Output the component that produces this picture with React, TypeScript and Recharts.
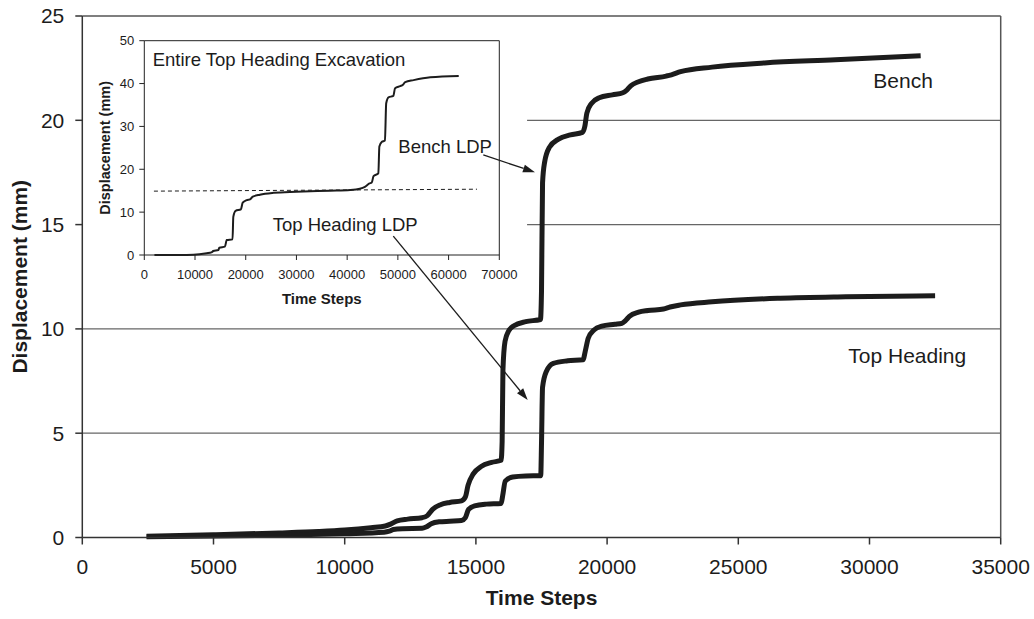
import React from "react";
import { LineChart, Line, XAxis, YAxis, ReferenceLine, ReferenceDot } from "recharts";

const FONT = '"Liberation Sans", Arial, Helvetica, sans-serif';
const INK = "#1c1c1c";

// ---- main chart: displacement vs time step ----
const MAIN_X_TICKS = [0, 5000, 10000, 15000, 20000, 25000, 30000, 35000];
const MAIN_Y_TICKS = [0, 5, 10, 15, 20, 25];

const BENCH_STEPS = [
  2450, 5000, 7500, 9000, 10000, 11000, 11550, 11750, 12000, 12400, 12950, 13150, 13350, 13650,
  14000, 14450, 14600, 14700, 14900, 15200, 15600, 15960, 16000, 16030, 16110, 16250, 16450,
  16900, 17460, 17500, 17540, 17620, 17800, 18150, 18600, 19060, 19150, 19230, 19400, 19700,
  20200, 20600, 20750, 20900, 21200, 21550, 22250, 22450, 22800, 24000, 26000, 28700, 31950,
];
const BENCH_MM = [
  0.06, 0.13, 0.22, 0.29, 0.36, 0.47, 0.55, 0.64, 0.8, 0.88, 0.95, 1.05, 1.35, 1.57,
  1.68, 1.76, 1.95, 2.5, 3.05, 3.4, 3.6, 3.7, 4.6, 8.0, 9.4, 9.9, 10.15,
  10.35, 10.45, 11.8, 17.0, 18.0, 18.7, 19.1, 19.3, 19.42, 19.7, 20.35, 20.8, 21.08,
  21.22, 21.32, 21.45, 21.65, 21.85, 21.98, 22.12, 22.18, 22.33, 22.55, 22.75, 22.9, 23.1,
];

const HEADING_STEPS = [
  2450, 5000, 7500, 10000, 11500, 11700, 11850, 12200, 12950, 13100, 13300, 13600, 14000, 14450,
  14600, 14720, 14950, 15400, 15960, 16020, 16120, 16400, 16900, 17470, 17500, 17540, 17680,
  17950, 18500, 19080, 19180, 19280, 19500, 19800, 20300, 20560, 20700, 20850, 21200, 21550,
  22150, 22400, 22800, 24000, 26600, 29100, 32500,
];
const HEADING_MM = [
  0.04, 0.07, 0.11, 0.18, 0.25, 0.3, 0.38, 0.42, 0.44, 0.5, 0.66, 0.75, 0.78, 0.81,
  0.95, 1.35, 1.52, 1.6, 1.63, 2.0, 2.7, 2.9, 2.95, 2.96, 4.5, 7.2, 7.95,
  8.35, 8.47, 8.52, 9.0, 9.55, 9.95, 10.13, 10.22, 10.27, 10.4, 10.6, 10.8, 10.88,
  10.95, 11.05, 11.15, 11.3, 11.47, 11.54, 11.59,
];

// horizontal rules; the upper two stop where the inset sits
const GRID_LEVELS = [5, 10, 15, 20];
const GRID_FROM = [0, 0, 16950, 16950];

// ---- inset: whole top heading excavation ----
const INSET_X_TICKS = [0, 10000, 20000, 30000, 40000, 50000, 60000, 70000];
const INSET_Y_TICKS = [0, 10, 20, 30, 40, 50];

const FULL_STEPS = [
  2000, 6000, 9700, 12300, 13250, 13600, 14600, 14800, 15900, 16250, 17400, 17550, 18000, 19050,
  19400, 20200, 20850, 21400, 22800, 25500, 30000, 36600, 40600, 42500, 43500, 44400, 44850,
  45200, 46150, 46350, 46850, 47450, 47700, 48150, 49100, 49450, 50450, 51000, 51450, 53100,
  56400, 62000,
];
const FULL_MM = [
  0, 0.02, 0.08, 0.4, 0.6, 0.93, 1.17, 1.7, 1.94, 3.5, 3.65, 8.9, 10.3, 10.65,
  12.2, 12.8, 13.0, 13.6, 14.07, 14.5, 14.75, 15.0, 15.16, 15.45, 15.9, 16.7, 16.9,
  18.4, 19.05, 25.3, 26.4, 26.7, 35.4, 36.8, 37.1, 38.9, 39.4, 39.7, 40.35, 40.8,
  41.45, 41.76,
];

const LDP_STEPS = [1900, 65600];
const LDP_MM = [14.9, 15.35];

const toPoints = (steps: number[], mm: number[]) => steps.map((t, i) => ({ t, d: mm[i] }));

const benchData = toPoints(BENCH_STEPS, BENCH_MM);
const headingData = toPoints(HEADING_STEPS, HEADING_MM);
const fullData = toPoints(FULL_STEPS, FULL_MM);
const ldpData = toPoints(LDP_STEPS, LDP_MM);

function arrowShape(p: any) {
  const x1 = p.x1 ?? p.points?.[0]?.x;
  const y1 = p.y1 ?? p.points?.[0]?.y;
  const x2 = p.x2 ?? p.points?.[1]?.x;
  const y2 = p.y2 ?? p.points?.[1]?.y;
  const a = Math.atan2(y2 - y1, x2 - x1);
  const len = 12;
  const half = 4;
  const bx = x2 - len * Math.cos(a);
  const by = y2 - len * Math.sin(a);
  const pts = [
    `${x2},${y2}`,
    `${bx + half * Math.sin(a)},${by - half * Math.cos(a)}`,
    `${bx - half * Math.sin(a)},${by + half * Math.cos(a)}`,
  ].join(" ");
  return (
    <g>
      <line x1={x1} y1={y1} x2={bx} y2={by} stroke={INK} strokeWidth={1.3} />
      <polygon points={pts} fill={INK} />
    </g>
  );
}

const textShape = (text: string, size: number) => (p: any) => (
  <text x={p.cx} y={p.cy} fontSize={size} fill={INK} fontFamily={FONT}>
    {text}
  </text>
);

export default function App() {
  return (
    <div
      style={{
        position: "fixed",
        left: 0,
        top: 0,
        width: 1034,
        height: 619,
        background: "#fff",
        fontFamily: FONT,
      }}
    >
      <LineChart width={1034} height={619} margin={{ top: 16, right: 33.3, bottom: 0, left: 0 }}>
        <XAxis
          type="number"
          dataKey="t"
          domain={[0, 35000]}
          ticks={MAIN_X_TICKS}
          interval={0}
          height={81.5}
          stroke="#333"
          strokeWidth={1.5}
          tickSize={7}
          tickMargin={15}
          tick={{ fontSize: 21, fill: INK, fontFamily: FONT }}
          label={(props: any) => {
            const vb = props.viewBox;
            return (
              <text
                x={vb.x + vb.width / 2}
                y={vb.y + 67.5}
                textAnchor="middle"
                fontSize={21}
                fontWeight="bold"
                fill={INK}
                fontFamily={FONT}
              >
                Time Steps
              </text>
            );
          }}
        />
        <YAxis
          type="number"
          domain={[0, 25]}
          ticks={MAIN_Y_TICKS}
          interval={0}
          width={82.3}
          stroke="#333"
          strokeWidth={1.5}
          tickSize={7}
          tickMargin={11}
          tick={{ fontSize: 21, fill: INK, fontFamily: FONT }}
          label={(props: any) => {
            const vb = props.viewBox;
            const cx = vb.x + 19;
            const cy = vb.y + vb.height / 2;
            return (
              <text
                x={cx}
                y={cy}
                transform={`rotate(-90 ${cx} ${cy})`}
                textAnchor="middle"
                dominantBaseline="central"
                fontSize={21}
                fontWeight="bold"
                fill={INK}
                fontFamily={FONT}
              >
                Displacement (mm)
              </text>
            );
          }}
        />

        {GRID_LEVELS.map((lvl, i) => (
          <ReferenceLine
            key={lvl}
            segment={[
              { x: GRID_FROM[i], y: lvl },
              { x: 35000, y: lvl },
            ]}
            stroke="#666"
            strokeWidth={1.2}
          />
        ))}
        <ReferenceLine y={25} stroke="#555" strokeWidth={1.5} />
        <ReferenceLine x={35000} stroke="#555" strokeWidth={1.5} />

        <Line
          data={benchData}
          dataKey="d"
          type="monotone"
          stroke={INK}
          strokeWidth={5}
          strokeLinejoin="round"
          dot={false}
          isAnimationActive={false}
        />
        <Line
          data={headingData}
          dataKey="d"
          type="monotone"
          stroke={INK}
          strokeWidth={5}
          strokeLinejoin="round"
          dot={false}
          isAnimationActive={false}
        />

        <ReferenceDot x={30145} y={21.56} r={1} ifOverflow="visible" shape={textShape("Bench", 21)} />
        <ReferenceDot x={29192} y={8.35} r={1} ifOverflow="visible" shape={textShape("Top Heading", 21)} />
        <ReferenceDot x={12043} y={18.45} r={1} ifOverflow="visible" shape={textShape("Bench LDP", 18.5)} />
        <ReferenceDot x={7256} y={14.71} r={1} ifOverflow="visible" shape={textShape("Top Heading LDP", 18.5)} />

        <ReferenceLine
          segment={[
            { x: 15282, y: 18.34 },
            { x: 17252, y: 17.51 },
          ]}
          ifOverflow="visible"
          shape={arrowShape}
        />
        <ReferenceLine
          segment={[
            { x: 11852, y: 14.45 },
            { x: 16974, y: 6.59 },
          ]}
          ifOverflow="visible"
          shape={arrowShape}
        />
      </LineChart>

      <div style={{ position: "absolute", left: 90, top: 20, width: 440, height: 310 }}>
        <LineChart width={440} height={310} margin={{ top: 20.7, right: 30.7, bottom: 0, left: 0 }}>
          <XAxis
            type="number"
            dataKey="t"
            domain={[0, 70000]}
            ticks={INSET_X_TICKS}
            interval={0}
            height={75}
            stroke="#222"
            tickSize={5}
            tickMargin={10}
            tick={{ fontSize: 13, fill: INK, fontFamily: FONT }}
            label={(props: any) => {
              const vb = props.viewBox;
              return (
                <text
                  x={vb.x + vb.width / 2}
                  y={vb.y + 48.7}
                  textAnchor="middle"
                  fontSize={15}
                  fontWeight="bold"
                  fill={INK}
                  fontFamily={FONT}
                >
                  Time Steps
                </text>
              );
            }}
          />
          <YAxis
            type="number"
            domain={[0, 50]}
            ticks={INSET_Y_TICKS}
            interval={0}
            width={54.3}
            stroke="#222"
            tickSize={5}
            tickMargin={5}
            tick={{ fontSize: 13, fill: INK, fontFamily: FONT }}
            label={(props: any) => {
              const vb = props.viewBox;
              const cx = vb.x + 15;
              const cy = vb.y + vb.height / 2;
              return (
                <text
                  x={cx}
                  y={cy}
                  transform={`rotate(-90 ${cx} ${cy})`}
                  textAnchor="middle"
                  dominantBaseline="central"
                  fontSize={14.5}
                  fontWeight="bold"
                  fill={INK}
                  fontFamily={FONT}
                >
                  Displacement (mm)
                </text>
              );
            }}
          />
          <ReferenceLine y={50} stroke="#222" />
          <ReferenceLine x={70000} stroke="#222" />

          <Line
            data={ldpData}
            dataKey="d"
            type="linear"
            stroke={INK}
            strokeWidth={1}
            strokeDasharray="4 3"
            dot={false}
            isAnimationActive={false}
          />
          <Line
            data={fullData}
            dataKey="d"
            type="monotone"
            stroke={INK}
            strokeWidth={2}
            dot={false}
            isAnimationActive={false}
          />

          <ReferenceDot
            x={1656}
            y={44.16}
            r={1}
            ifOverflow="visible"
            shape={textShape("Entire Top Heading Excavation", 18.5)}
          />
        </LineChart>
      </div>
    </div>
  );
}
